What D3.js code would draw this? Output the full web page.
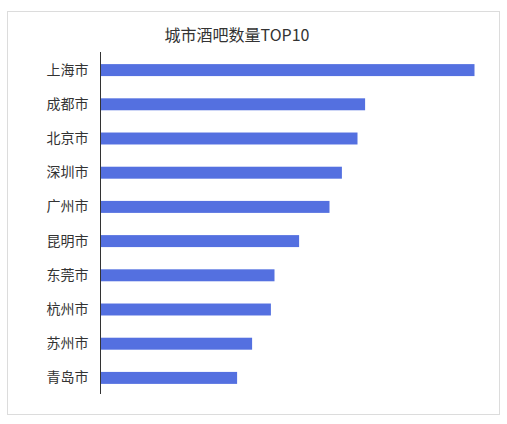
<!DOCTYPE html>
<html lang="zh">
<head>
<meta charset="UTF-8">
<title>城市酒吧数量TOP10</title>
<script src="https://d3js.org/d3.v7.min.js"></script>
<style>
    body { margin: 0; background: #fff; }
    text { font-family: "Noto Sans CJK SC", "Noto Sans", sans-serif; fill: #333; }
</style>
</head>
<body>
<svg id="chart" width="507" height="424"></svg>
<script>
    const cities = ["上海市", "成都市", "北京市", "深圳市", "广州市", "昆明市", "东莞市", "杭州市", "苏州市", "青岛市"];
    const barCounts = [1870, 1323, 1285, 1207, 1145, 993, 870, 852, 758, 683];

    const svg = d3.select("#chart");
    const width = +svg.attr("width");
    const height = +svg.attr("height");

    // light frame round the chart
    svg.append("rect")
        .attr("x", 7.5).attr("y", 11.5)
        .attr("width", 492).attr("height", 403)
        .attr("fill", "#fff")
        .attr("stroke", "#dcdcdc");

    const margin = { top: 53, right: 33, bottom: 29, left: 100 };

    const x = d3.scaleLinear()
        .domain([0, d3.max(barCounts)])
        .range([margin.left, width - margin.right]);

    const y = d3.scaleBand()
        .domain(cities)
        .range([margin.top, height - margin.bottom])
        .paddingInner(0.65)
        .paddingOuter(0.325);

    svg.append("g")
        .selectAll("rect")
        .data(cities)
        .enter()
        .append("rect")
        .attr("x", x(0) + 0.5)
        .attr("y", d => y(d))
        .attr("width", (d, i) => x(barCounts[i]) - x(0))
        .attr("height", y.bandwidth())
        .attr("fill", "#5470e0");

    const yAxis = svg.append("g")
        .attr("transform", `translate(${margin.left + 0.5},0)`)
        .call(d3.axisLeft(y).tickSize(0).tickPadding(12));
    yAxis.select(".domain").attr("stroke", "#333")
        .attr("d", `M0,52V394`);
    yAxis.selectAll("text")
        .style("font-size", "14px")
        .style("fill", "#333");

    svg.append("text")
        .attr("x", 237)
        .attr("y", 41)
        .attr("text-anchor", "middle")
        .style("font-size", "16px")
        .text("城市酒吧数量TOP10");
</script>
</body>
</html>
